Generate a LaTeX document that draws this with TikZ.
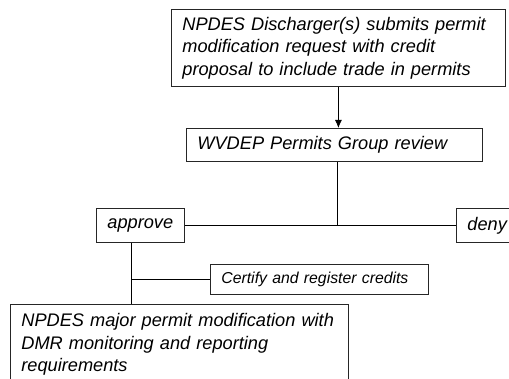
\documentclass[tikz,border=0pt]{standalone}
\usepackage{fontspec}
\setmainfont{Liberation Sans}
\usetikzlibrary{arrows.meta,positioning,calc}

\tikzset{
	stepbox/.style={draw=black!85, line width=0.8pt, anchor=north west, inner xsep=11pt, inner ysep=0pt, align=left, font=\itshape\fontsize{18.2}{22.5}\selectfont},
	link/.style={line width=0.8pt, draw=black}
}

\begin{document}
\begin{tikzpicture}[x=1pt, y=-1pt]
				\useasboundingbox (0,0) rectangle (509,379);
				\node[stepbox, text width=312pt, minimum height=77pt] (request) at (171,9) {NPDES Discharger(s) submits permit\\modification request with credit\\proposal to include trade in permits};
				\node[stepbox, text width=274pt, minimum height=33pt] (review) at (186,128) {WVDEP Permits Group review};
				\node[stepbox, text width=66pt, minimum height=34pt] (approve) at (96,208) {approve};
				\node[stepbox, text width=60pt, minimum height=34pt] (deny) at (456,208) {deny};
				\node[stepbox, text width=196pt, minimum height=30pt, font=\itshape\fontsize{15.8}{19}\selectfont] (certify) at (210,264) {Certify and register credits};
				\node[stepbox, text width=316pt, minimum height=80pt] (modify) at (10,304) {NPDES major permit modification with\\DMR monitoring and reporting\\requirements};
				\coordinate (split) at ([xshift=35pt]approve.south west);
				\coordinate (fork) at ([xshift=3pt]review.south);
				\draw[link, -{Latex[length=8pt,width=7pt]}] (request.south) -- (request.south |- review.north);
				\draw[link] (fork) -- (fork |- approve.east);
				\draw[link] (approve.east) -- (deny.west);
				\draw[link] (split) -- (split |- modify.north);
				\draw[link] (split |- certify.west) -- (certify.west);
			\end{tikzpicture}
\end{document}
